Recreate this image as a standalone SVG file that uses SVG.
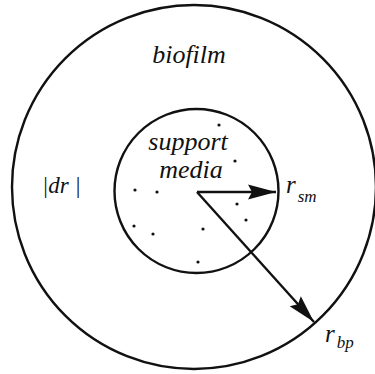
<svg xmlns="http://www.w3.org/2000/svg" width="375" height="374" viewBox="0 0 375 374">
<style>
.c{fill:none;stroke:#111;stroke-width:2.4}
.t{font-family:"Liberation Serif",serif;font-style:italic;fill:#111}
.d{fill:#111}
.a{stroke:#111;stroke-width:2.4;fill:none}
</style>
<defs>
<marker id="ah" markerUnits="userSpaceOnUse" markerWidth="30" markerHeight="16" refX="28" refY="8" orient="auto">
<path d="M0,0.5 L28,8 L0,15.5 L4,8 z" fill="#111"/>
</marker>
</defs>
<rect width="375" height="374" fill="#fff"/>
<g id="biofilm">
<circle class="c" cx="194" cy="187" r="182"/>
<text class="t" x="189" y="63" font-size="26" text-anchor="middle">biofilm</text>
<text class="t" x="42" y="193" font-size="23">|dr |</text>
</g>
<g id="support-media">
<circle class="c" cx="196.5" cy="191" r="82"/>
<text class="t" x="188" y="150" font-size="26" text-anchor="middle">support</text>
<text class="t" x="191" y="178" font-size="26" text-anchor="middle">media</text>
<g class="d">
<circle cx="219" cy="125" r="1.6"/>
<circle cx="235" cy="161" r="1.6"/>
<circle cx="135" cy="190" r="1.6"/>
<circle cx="157" cy="192" r="1.6"/>
<circle cx="237" cy="204" r="1.6"/>
<circle cx="246" cy="220" r="1.6"/>
<circle cx="134" cy="226" r="1.6"/>
<circle cx="153" cy="234" r="1.6"/>
<circle cx="203" cy="229" r="1.6"/>
<circle cx="198" cy="262" r="1.6"/>
</g>
</g>
<g id="connectors">
<line class="a" x1="197" y1="192" x2="276" y2="192" marker-end="url(#ah)"/>
<line class="a" x1="197" y1="192" x2="314" y2="322" marker-end="url(#ah)"/>
</g>
<g id="label-rsm">
<text class="t" x="286" y="193" font-size="25">r<tspan font-size="17" dx="2" dy="9">sm</tspan></text>
</g>
<g id="label-rbp">
<text class="t" x="325" y="342" font-size="25">r<tspan font-size="17" dx="2" dy="6">bp</tspan></text>
</g>
</svg>
